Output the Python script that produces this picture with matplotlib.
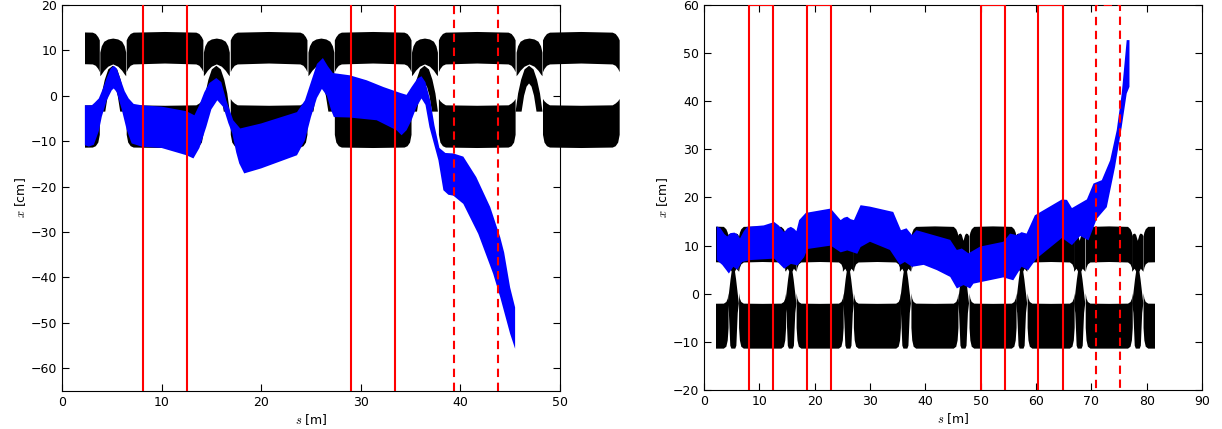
import numpy as np
import matplotlib
matplotlib.use("Agg")
import matplotlib.pyplot as plt
from matplotlib.patches import Rectangle

plt.rcParams["mathtext.fontset"] = "cm"
plt.rcParams["font.size"] = 9
plt.rcParams["xtick.direction"] = "in"
plt.rcParams["ytick.direction"] = "in"
plt.rcParams["xtick.top"] = True
plt.rcParams["ytick.right"] = True
plt.rcParams["xtick.major.size"] = 5
plt.rcParams["ytick.major.size"] = 5

# ---------------- left panel data ----------------
# lattice cells: centres of the focusing bumps and of the flat pieces between them
left_centres = [5.1, 15.5, 26.0, 36.4, 46.9]
left_piece_mids = [-0.1, 10.3, 20.75, 31.2, 41.65, 52.1]

piece_offsets = [-3.85, -3.7, -3.45, -3.15, 0.0, 3.15, 3.45, 3.7, 3.85]
left_up_top = [12.3, 13.0, 13.7, 14.0, 14.15, 14.0, 13.7, 13.0, 12.3]
left_up_bot = [5.3, 6.0, 6.7, 7.0, 7.2, 7.0, 6.7, 6.0, 5.3]
left_lo_top = [-0.6, -1.1, -1.6, -2.0, -2.1, -2.0, -1.6, -1.1, -0.6]
left_lo_bot = [-8.5, -10.2, -11.0, -11.3, -11.4, -11.3, -11.0, -10.2, -8.5]

dome_offsets = [-1.3, -1.15, -0.9, -0.5, 0.0, 0.5, 0.9, 1.15, 1.3]
left_dome_top = [9.6, 11.0, 12.0, 12.5, 12.7, 12.5, 12.0, 11.0, 9.6]
left_dome_bot = [4.4, 4.8, 5.6, 6.5, 7.0, 6.5, 5.6, 4.8, 4.4]

arch_out_off = [-1.35, -1.1, -0.8, -0.45, 0.0, 0.45, 0.8, 1.1, 1.35]
arch_out = [-3.5, 0.5, 3.5, 5.8, 6.6, 5.8, 3.5, 0.5, -3.5]
arch_in_off = [-0.75, -0.5, -0.25, 0.0, 0.25, 0.5, 0.75]
arch_in = [-3.5, 0.0, 2.0, 2.7, 2.0, 0.0, -3.5]

left_black_range = [2.3, 60.0]

# blue bunch (left)
left_blue_up_s = [2.3, 3.0, 3.3, 3.7, 4.1, 4.5, 4.9, 5.2, 5.5, 5.9, 6.3, 6.7, 7.2, 8.0, 10.0,
                  12.5, 13.3, 13.8, 14.3, 14.8, 15.5, 16.0, 16.5, 17.2, 17.9, 20.0, 23.6,
                  24.4, 25.0, 25.6, 26.2, 26.7, 27.2, 28.9, 30.6, 32.3, 34.0, 34.6, 35.1,
                  35.7, 36.1, 36.5, 37.0, 37.4, 37.9, 38.5, 39.3, 40.3, 41.6, 43.0, 44.0,
                  44.4, 45.0, 45.5]
left_blue_up = [-2.1, -2.1, -1.5, -0.6, 1.5, 4.0, 6.0, 6.6, 6.0, 3.5, 1.0, -0.6, -1.8, -2.1, -2.4,
                -3.4, -4.3, -2.0, 0.8, 2.8, 3.9, 3.0, -1.0, -5.4, -7.2, -6.1, -3.6,
                -1.0, 3.0, 7.0, 8.3, 6.5, 5.0, 4.5, 3.4, 1.9, 0.6, 0.2, 1.9,
                3.8, 4.3, 3.0, -1.2, -6.5, -11.5, -12.6, -12.7, -13.4, -17.9, -24.5, -31.1,
                -34.5, -42.2, -46.6]
left_blue_lo_s = [2.3, 2.7, 3.2, 3.7, 4.0, 4.5, 5.0, 5.2, 5.5, 6.0, 6.5, 7.0, 8.0, 10.0, 12.5,
                  13.2, 13.8, 14.5, 15.0, 15.6, 16.2, 16.7, 17.1, 17.5, 17.8, 18.3, 20.0,
                  23.6, 24.4, 25.0, 25.6, 26.1, 26.6, 27.0, 27.3, 28.9, 31.6, 33.6, 34.1,
                  34.6, 35.1, 35.6, 36.1, 36.5, 36.9, 37.8, 38.3, 38.8, 39.3, 40.3, 41.8,
                  43.3, 44.0, 45.0, 45.5]
left_blue_lo = [-10.9, -11.2, -10.8, -7.8, -4.6, -1.0, 1.2, 1.6, 0.8, -3.0, -7.5, -10.5, -11.2, -11.5, -13.1,
                -13.8, -11.5, -6.8, -3.0, -1.0, -2.5, -6.0, -8.3, -12.5, -14.9, -17.1, -16.0,
                -13.1, -9.8, -4.7, -0.5, 1.5, 0.0, -3.0, -4.7, -4.8, -5.4, -7.6, -8.7,
                -7.6, -5.4, -2.5, -0.6, -2.0, -6.9, -14.2, -20.8, -21.8, -22.0, -23.8, -30.4,
                -39.2, -44.3, -52.4, -55.7]

left_solid = [8.15, 12.55, 29.0, 33.4]
left_dashed = [39.4, 43.8]

# ---------------- right panel data ----------------
right_centres = [5.3, 15.7, 26.1, 36.4, 46.9, 57.4, 67.9, 78.4]
right_piece_mids = [0.1, 10.5, 20.9, 31.25, 41.65, 52.15, 62.65, 73.15, 83.6]

rpiece_offsets = [-4.25, -4.1, -3.85, -3.4, 0.0, 3.4, 3.85, 4.1, 4.25]
right_up_top = [12.0, 12.8, 13.5, 14.0, 14.1, 14.0, 13.5, 12.8, 12.0]
right_up_bot = [4.6, 5.5, 6.2, 6.6, 6.7, 6.6, 6.2, 5.5, 4.6]
right_lo_top = [0.2, -0.9, -1.6, -1.95, -2.0, -1.95, -1.6, -0.9, 0.2]
right_lo_bot = [-7.0, -9.6, -10.9, -11.3, -11.3, -11.3, -10.9, -9.6, -7.0]

# crossing point between cells, outline relative to the cell centre
spike_off = [-1.0, -0.8, -0.5, -0.3, 0.0, 0.3, 0.5, 0.8, 1.0,
             1.0, 0.55, 0.3, 0.5, 0.7, 0.9, 1.0, 0.8, 0.65, 0.55, 0.35,
             -0.35, -0.55, -0.65, -0.8, -1.0, -0.9, -0.7, -0.5, -0.3, -0.55, -1.0]
spike_val = [12.0, 12.4, 12.5, 12.2, 11.0, 12.2, 12.5, 12.4, 12.0,
             4.6, 5.2, 4.6, 3.0, 1.0, -1.0, -2.0, -4.0, -8.0, -10.8, -11.4,
             -11.4, -10.8, -8.0, -4.0, -2.0, -1.0, 1.0, 3.0, 4.6, 5.2, 4.6]

right_black_range = [2.2, 81.3]

right_blue_up_s = [2.3, 3.0, 3.7, 4.2, 4.8, 5.5, 6.0, 6.5, 7.2, 7.8, 10.8, 12.7, 13.5, 14.5,
                   15.1, 15.7, 16.3, 16.7, 17.2, 18.4, 22.9, 23.8, 24.7, 25.3, 25.9, 26.5,
                   27.1, 28.3, 30.0, 34.2, 35.6, 36.6, 37.6, 38.4, 44.5, 45.7, 46.6, 47.8,
                   49.9, 54.1, 55.3, 56.5, 57.4, 58.3, 59.8, 64.7, 65.6, 66.5, 67.7, 69.2,
                   70.4, 71.9, 73.4, 74.6, 75.5, 76.4, 76.9]
right_blue_up = [14.0, 13.6, 12.4, 11.9, 12.6, 12.7, 12.4, 11.5, 13.0, 13.9, 14.2, 14.9, 14.2, 12.8,
                 13.6, 13.9, 13.5, 13.0, 15.3, 16.8, 17.7, 16.5, 15.3, 15.8, 16.0, 15.5,
                 15.3, 18.4, 18.1, 17.0, 13.2, 13.6, 12.2, 13.2, 11.2, 9.1, 9.4, 8.4,
                 9.8, 10.8, 12.5, 12.2, 12.8, 12.5, 16.3, 19.6, 19.5, 17.8, 18.6, 19.6,
                 22.9, 23.6, 27.7, 34.0, 41.6, 52.7, 52.7]
right_blue_lo_s = [2.3, 3.3, 4.5, 5.3, 6.0, 6.9, 8.4, 12.7, 14.5, 15.7, 16.9, 18.1, 18.7, 22.9,
                   24.7, 25.9, 27.7, 28.3, 30.0, 33.6, 35.4, 36.3, 37.6, 39.7, 42.1, 44.5,
                   45.7, 46.9, 48.1, 48.7, 54.1, 55.9, 57.4, 58.6, 60.1, 64.7, 66.5, 68.0,
                   69.5, 71.0, 72.8, 74.3, 75.5, 76.4, 76.9]
right_blue_lo = [7.0, 6.0, 4.2, 5.6, 5.0, 6.6, 7.0, 7.3, 5.2, 6.2, 5.9, 7.6, 9.3, 10.0,
                 8.6, 9.0, 8.3, 9.7, 10.8, 9.1, 6.0, 6.6, 5.6, 6.0, 4.9, 3.5,
                 1.1, 1.8, 1.1, 2.1, 3.4, 2.8, 5.6, 4.9, 7.3, 11.6, 10.1, 12.0,
                 11.1, 15.6, 18.0, 26.4, 34.7, 41.6, 43.0]

right_solid_boxes = [[8.15, 12.55], [18.55, 22.95], [50.0, 54.4], [60.4, 64.8]]
right_dashed_boxes = [[70.8, 75.2]]

BLUE = "#0000ff"
RED = "#ff0000"
DASH = (0, (4, 2.7))


def clip_to(artist, ax, srange):
    clip = Rectangle((srange[0], -200), srange[1] - srange[0], 400,
                     transform=ax.transData)
    artist.set_clip_path(clip)


def draw_blue(ax, up_s, up, lo_s, lo):
    xs = np.concatenate([up_s, lo_s[::-1]])
    ys = np.concatenate([up, lo[::-1]])
    ax.fill(xs, ys, color=BLUE, lw=0, zorder=3)


fig = plt.figure(figsize=(12.22, 4.29), dpi=100)
ax1 = fig.add_axes([0.0507, 0.0886, 0.4075, 0.9])
ax2 = fig.add_axes([0.5761, 0.0909, 0.4075, 0.8975])

# ---- left panel ----
offs = np.array(piece_offsets)
for m in left_piece_mids:
    for top, bot in [(left_up_top, left_up_bot), (left_lo_top, left_lo_bot)]:
        pc = ax1.fill_between(m + offs, bot, top, color="k", lw=0, zorder=2)
        clip_to(pc, ax1, left_black_range)
for c in left_centres:
    pc = ax1.fill_between(c + np.array(dome_offsets), left_dome_bot, left_dome_top,
                          color="k", lw=0, zorder=2)
    clip_to(pc, ax1, left_black_range)
    xs = np.concatenate([c + np.array(arch_out_off), c + np.array(arch_in_off)[::-1]])
    ys = np.concatenate([arch_out, arch_in[::-1]])
    for p in ax1.fill(xs, ys, color="k", lw=0, zorder=2):
        clip_to(p, ax1, left_black_range)

draw_blue(ax1, np.array(left_blue_up_s), np.array(left_blue_up),
          np.array(left_blue_lo_s), np.array(left_blue_lo))

for s in left_solid:
    ax1.axvline(s, color=RED, lw=1.5, zorder=4)
for s in left_dashed:
    ax1.axvline(s, color=RED, lw=1.5, ls=DASH, zorder=4)

ax1.set_xlim(0, 50)
ax1.set_ylim(-65, 20)
ax1.set_xticks(range(0, 51, 10))
ax1.set_yticks(range(-60, 21, 10))
ax1.set_xlabel("$s$ [m]")
ax1.set_ylabel("$x$ [cm]")

# ---- right panel ----
roffs = np.array(rpiece_offsets)
for m in right_piece_mids:
    for top, bot in [(right_up_top, right_up_bot), (right_lo_top, right_lo_bot)]:
        pc = ax2.fill_between(m + roffs, bot, top, color="k", lw=0, zorder=2)
        clip_to(pc, ax2, right_black_range)
for c in right_centres:
    for p in ax2.fill(c + np.array(spike_off), spike_val, color="k", lw=0, zorder=2):
        clip_to(p, ax2, right_black_range)

draw_blue(ax2, np.array(right_blue_up_s), np.array(right_blue_up),
          np.array(right_blue_lo_s), np.array(right_blue_lo))

for a, b in right_solid_boxes:
    ax2.plot([a, a, b, b], [-30, 60, 60, -30], color=RED, lw=1.5, zorder=4)
for a, b in right_dashed_boxes:
    ax2.plot([a, a, b, b], [-30, 60, 60, -30], color=RED, lw=1.5, ls=DASH, zorder=4)

ax2.set_xlim(0, 90)
ax2.set_ylim(-20, 60)
ax2.set_xticks(range(0, 91, 10))
ax2.set_yticks(range(-20, 61, 10))
ax2.set_xlabel("$s$ [m]")
ax2.set_ylabel("$x$ [cm]")

for ax in (ax1, ax2):
    ax.xaxis.labelpad = 2
    ax.yaxis.labelpad = 2

fig.savefig("out.png", dpi=100)
